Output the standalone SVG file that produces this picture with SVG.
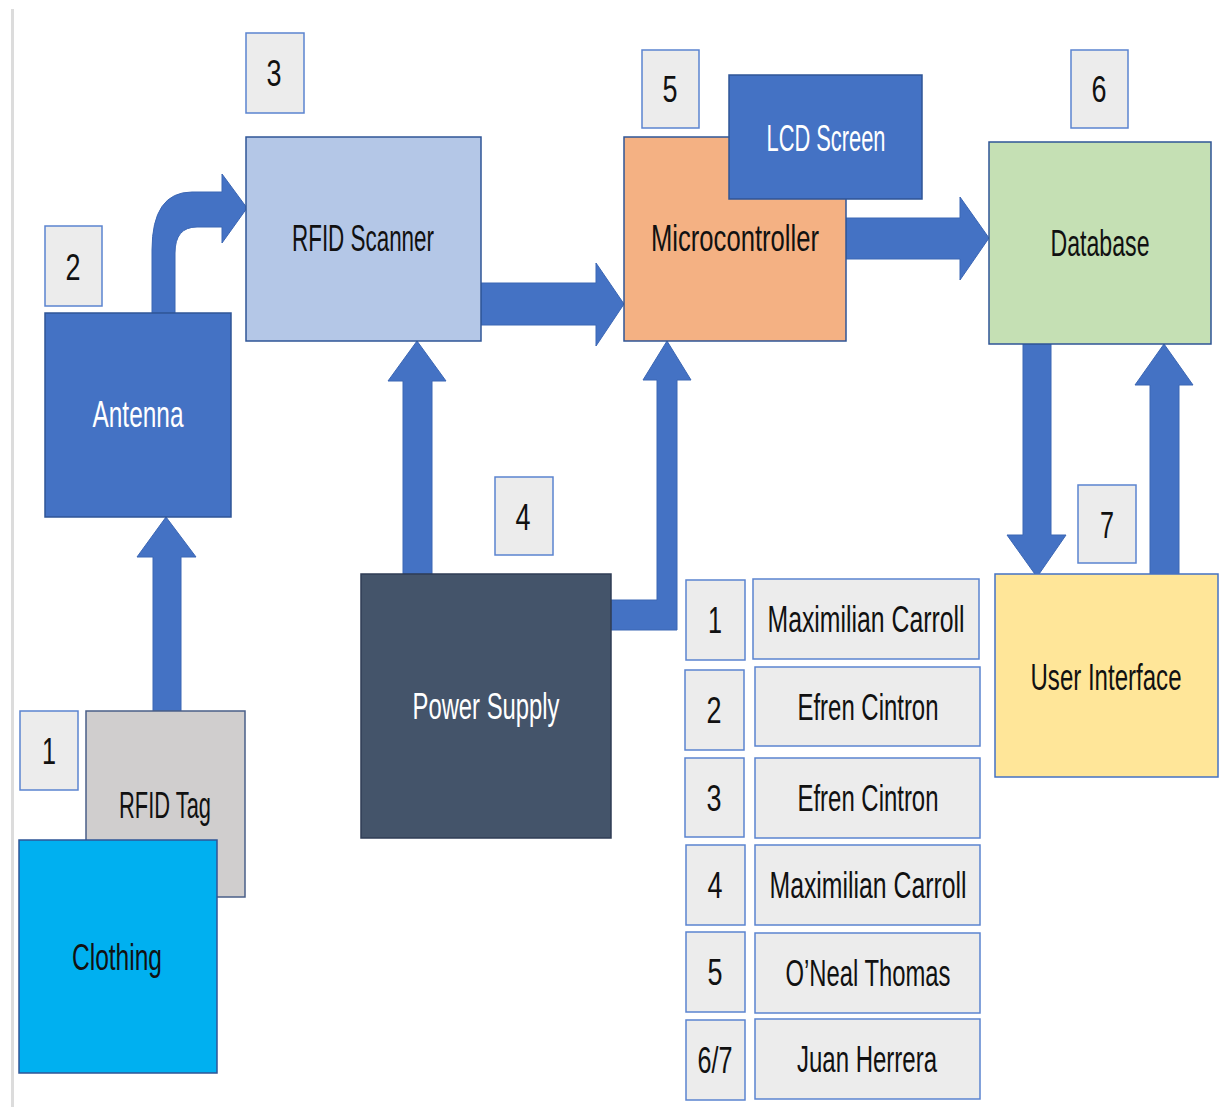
<svg xmlns="http://www.w3.org/2000/svg" width="1220" height="1107" viewBox="0 0 1220 1107">
<style>
text{font-family:"Liberation Sans",Arial,sans-serif;font-size:37px;text-anchor:middle;fill:#111}
.w{fill:#fff}
.d{font-size:36px}
.lbl{fill:#ececec;stroke:#5b84d0;stroke-width:1.5}
.arr{fill:#4472c4;stroke:#3b66b4;stroke-width:1}
.nd{stroke:#2f5597;stroke-width:1.5}
</style>
<rect x="0" y="0" width="1220" height="1107" fill="#fff"/>
<rect x="11" y="9" width="3" height="1098" fill="#dcdcdc"/>

<g id="connectors">
<path class="arr" d="M152,313 L152,250 Q152,192 192,192 L222,192 L222,174 L247,208 L222,243 L222,227 L197,227 Q175,227 175,253 L175,313 Z"/>
<path class="arr" d="M153,711 L153,557 L137,557 L166,517 L196,557 L181,557 L181,711 Z"/>
<path class="arr" d="M403,574 L403,381 L388,381 L417,341 L446,381 L432,381 L432,574 Z"/>
<path class="arr" d="M611,600 L657,600 L657,380 L643,380 L667,341 L691,380 L677,380 L677,630 L611,630 Z"/>
<path class="arr" d="M481,283 L596,283 L596,263 L624,304 L596,346 L596,325 L481,325 Z"/>
<path class="arr" d="M846,218 L960,218 L960,197 L989,238 L960,280 L960,259 L846,259 Z"/>
<path class="arr" d="M1023,344 L1051,344 L1051,535 L1066,535 L1037,577 L1007,535 L1023,535 Z"/>
<path class="arr" d="M1150,575 L1150,385 L1135,385 L1164,344 L1193,385 L1179,385 L1179,575 Z"/>
</g>

<g id="n3"><rect class="lbl" x="246" y="33" width="58" height="80"/><text class="d" x="274" y="86" textLength="15" lengthAdjust="spacingAndGlyphs">3</text></g>
<g id="rfid-scanner"><rect class="nd" x="246" y="137" width="235" height="204" fill="#b4c7e7"/><text x="363" y="251" textLength="142" lengthAdjust="spacingAndGlyphs">RFID Scanner</text></g>
<g id="n2"><rect class="lbl" x="45" y="226" width="57" height="80"/><text class="d" x="73" y="280" textLength="15" lengthAdjust="spacingAndGlyphs">2</text></g>
<g id="antenna"><rect class="nd" x="45" y="313" width="186" height="204" fill="#4472c4"/><text class="w" x="138" y="427" textLength="91" lengthAdjust="spacingAndGlyphs">Antenna</text></g>
<g id="n1"><rect class="lbl" x="20" y="711" width="58" height="79"/><text class="d" x="49" y="764" textLength="14" lengthAdjust="spacingAndGlyphs">1</text></g>
<g id="rfid-tag"><rect x="86" y="711" width="159" height="186" fill="#d0cece" stroke="#4a5f88" stroke-width="1.5"/><text x="165" y="818" textLength="92" lengthAdjust="spacingAndGlyphs">RFID Tag</text></g>
<g id="clothing"><rect class="nd" x="19" y="840" width="198" height="233" fill="#00b0f0"/><text x="117" y="970" textLength="90" lengthAdjust="spacingAndGlyphs">Clothing</text></g>
<g id="n4"><rect class="lbl" x="495" y="477" width="58" height="78"/><text class="d" x="523" y="530" textLength="15" lengthAdjust="spacingAndGlyphs">4</text></g>
<g id="power-supply"><rect x="361" y="574" width="250" height="264" fill="#44546a" stroke="#2f3d55" stroke-width="1.5"/><text class="w" x="486" y="719" textLength="147" lengthAdjust="spacingAndGlyphs">Power Supply</text></g>
<g id="n5"><rect class="lbl" x="642" y="50" width="57" height="78"/><text class="d" x="670" y="102" textLength="15" lengthAdjust="spacingAndGlyphs">5</text></g>
<g id="microcontroller"><rect class="nd" x="624" y="137" width="222" height="204" fill="#f4b183"/><text x="735" y="251" textLength="168" lengthAdjust="spacingAndGlyphs">Microcontroller</text></g>
<g id="lcd-screen"><rect class="nd" x="729" y="75" width="193" height="124" fill="#4472c4"/><text class="w" x="826" y="151" textLength="119" lengthAdjust="spacingAndGlyphs">LCD Screen</text></g>
<g id="n6"><rect class="lbl" x="1071" y="50" width="57" height="78"/><text class="d" x="1099" y="102" textLength="15" lengthAdjust="spacingAndGlyphs">6</text></g>
<g id="database"><rect class="nd" x="989" y="142" width="222" height="202" fill="#c5e0b4" stroke="#4472c4"/><text x="1100" y="256" textLength="99" lengthAdjust="spacingAndGlyphs">Database</text></g>
<g id="n7"><rect class="lbl" x="1078" y="485" width="58" height="78"/><text class="d" x="1107" y="538" textLength="14" lengthAdjust="spacingAndGlyphs">7</text></g>
<g id="user-interface"><rect x="995" y="574" width="223" height="203" fill="#ffe699" stroke="#4472c4" stroke-width="1.5"/><text x="1106" y="690" textLength="151" lengthAdjust="spacingAndGlyphs">User Interface</text></g>

<g id="table">
<rect class="lbl" x="686" y="580" width="59" height="80"/><text class="d" x="715" y="633" textLength="14" lengthAdjust="spacingAndGlyphs">1</text>
<rect class="lbl" x="753" y="579" width="226" height="80"/><text x="866" y="632" textLength="197" lengthAdjust="spacingAndGlyphs">Maximilian Carroll</text>
<rect class="lbl" x="685" y="670" width="59" height="80"/><text class="d" x="714" y="723" textLength="15" lengthAdjust="spacingAndGlyphs">2</text>
<rect class="lbl" x="755" y="667" width="225" height="79"/><text x="868" y="720" textLength="141" lengthAdjust="spacingAndGlyphs">Efren Cintron</text>
<rect class="lbl" x="685" y="758" width="59" height="79"/><text class="d" x="714" y="811" textLength="15" lengthAdjust="spacingAndGlyphs">3</text>
<rect class="lbl" x="755" y="758" width="225" height="80"/><text x="868" y="811" textLength="141" lengthAdjust="spacingAndGlyphs">Efren Cintron</text>
<rect class="lbl" x="686" y="845" width="59" height="80"/><text class="d" x="715" y="898" textLength="15" lengthAdjust="spacingAndGlyphs">4</text>
<rect class="lbl" x="755" y="845" width="225" height="80"/><text x="868" y="898" textLength="197" lengthAdjust="spacingAndGlyphs">Maximilian Carroll</text>
<rect class="lbl" x="686" y="932" width="59" height="80"/><text class="d" x="715" y="985" textLength="15" lengthAdjust="spacingAndGlyphs">5</text>
<rect class="lbl" x="755" y="933" width="225" height="80"/><text x="868" y="986" textLength="165" lengthAdjust="spacingAndGlyphs">O’Neal Thomas</text>
<rect class="lbl" x="686" y="1020" width="59" height="80"/><text class="d" x="715" y="1073" textLength="35" lengthAdjust="spacingAndGlyphs">6/7</text>
<rect class="lbl" x="755" y="1019" width="225" height="80"/><text x="867" y="1072" textLength="140" lengthAdjust="spacingAndGlyphs">Juan Herrera</text>
</g>
</svg>
